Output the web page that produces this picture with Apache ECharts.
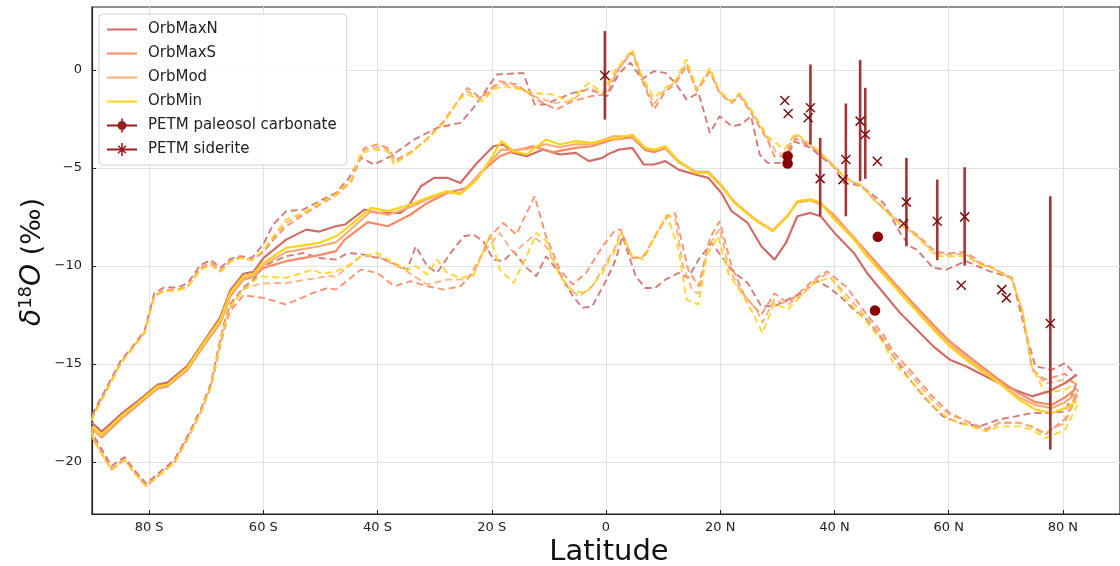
<!DOCTYPE html>
<html><head><meta charset="utf-8">
<script src="https://cdn.jsdelivr.net/npm/echarts@6/dist/echarts.min.js"></script>
<style>html,body{margin:0;padding:0;background:#fff}#c{width:1120px;height:566px}</style>
</head><body><div id="c"></div>
<script>
// ---------- DATA ----------
const xTicks = [-80, -60, -40, -20, 0, 20, 40, 60, 80];
const yTicks = [-20, -15, -10, -5, 0];
const modelNames = ['OrbMaxN', 'OrbMaxS', 'OrbMod', 'OrbMin'];

// annual mean (solid)
const orbMaxN_mean = [[-90,-18.0],[-88.3,-18.45],[-84.9,-17.55],[-82,-16.9],[-78.5,-16.05],[-76.8,-15.95],[-73.3,-15.1],[-70.4,-13.85],[-67.5,-12.6],[-65.8,-11.25],[-63.5,-10.4],[-61.7,-10.3],[-60,-9.6],[-56,-8.66],[-52.5,-8.15],[-50.2,-8.25],[-47.3,-7.98],[-45.7,-7.89],[-42.3,-7.13],[-40,-7.3],[-36,-7.3],[-34.8,-7.04],[-32.4,-5.94],[-30.1,-5.51],[-27.8,-5.51],[-25.5,-5.77],[-22.6,-4.75],[-19.7,-3.9],[-18,-3.81],[-16.2,-4.24],[-13.9,-4.41],[-11,-4.07],[-8.1,-4.32],[-5.3,-4.24],[-3,-4.66],[-0.6,-4.49],[0.25,-4.32],[2.3,-4.07],[4.6,-3.98],[6.6,-4.83],[8.4,-4.83],[10.4,-4.66],[12.7,-5.09],[15.6,-5.34],[17.9,-5.51],[20.2,-6.28],[22,-7.21],[24.8,-7.81],[27.2,-9.0],[29.5,-9.68],[31.5,-8.83],[33.5,-7.47],[35.8,-7.3],[37.6,-7.47],[39.9,-8.28],[43.4,-9.34],[45.7,-10.36],[51.5,-12.4],[57.3,-14.1],[60.2,-14.78],[63,-15.12],[68.8,-15.97],[72.3,-16.4],[74.6,-16.65],[77.5,-16.4],[80.4,-15.97],[82.4,-15.55]];
const orbMaxS_mean = [[-90,-18.3],[-88.3,-18.75],[-84.9,-17.8],[-82,-17.1],[-78.5,-16.25],[-76.8,-16.15],[-73.3,-15.3],[-70.4,-14.05],[-67.5,-12.9],[-65.8,-11.55],[-63.5,-10.7],[-61.7,-10.55],[-60,-10.1],[-56,-9.76],[-50.2,-9.45],[-47.3,-9.25],[-45.7,-8.65],[-41.7,-7.77],[-38.2,-7.98],[-34.2,-7.38],[-31.3,-6.79],[-27.8,-6.28],[-24.3,-6.02],[-22,-5.26],[-18.6,-4.41],[-16.2,-4.15],[-12.8,-3.9],[-9.3,-4.2],[-5.3,-3.98],[-2.4,-3.9],[1.1,-3.56],[4.6,-3.45],[6.9,-4.1],[8.4,-4.2],[10.4,-4.0],[12.7,-4.7],[15.6,-5.2],[17.9,-5.2],[20.2,-5.9],[22.5,-6.75],[26,-7.6],[29.2,-8.2],[31.8,-7.45],[33.5,-6.75],[35.8,-6.65],[37.6,-6.85],[39.9,-7.4],[45.7,-9.3],[51.5,-11.2],[57.3,-13.0],[60.2,-13.85],[63,-14.5],[68.8,-15.8],[72.3,-16.5],[75.2,-16.95],[78.1,-17.08],[80.4,-16.7],[82.4,-16.23]];
const orbMod_mean = [[-90,-18.25],[-88.3,-18.7],[-84.9,-17.75],[-82,-17.05],[-78.5,-16.2],[-76.8,-16.1],[-73.3,-15.25],[-70.4,-14.0],[-67.5,-12.85],[-65.8,-11.5],[-63.5,-10.65],[-61.7,-10.5],[-60,-9.95],[-56,-9.3],[-50.2,-9.0],[-47.3,-8.8],[-45.7,-8.4],[-41.1,-7.2],[-38.2,-7.4],[-34.2,-7.0],[-31.3,-6.6],[-27.8,-6.25],[-25.5,-6.3],[-22.6,-5.5],[-20.3,-4.7],[-18.3,-4.07],[-16.2,-4.1],[-13.9,-4.05],[-10.5,-3.8],[-8.1,-3.95],[-5.3,-3.8],[-2.4,-3.8],[1.1,-3.4],[4.6,-3.4],[6.9,-4.0],[8.4,-4.1],[10.4,-3.95],[12.7,-4.65],[15.6,-5.2],[17.9,-5.25],[20.2,-5.92],[22.5,-6.77],[26,-7.62],[29.2,-8.2],[31.8,-7.45],[33.5,-6.72],[35.8,-6.6],[37.6,-6.8],[39.9,-7.5],[43.4,-8.55],[45.7,-9.4],[51.5,-11.3],[57.3,-13.15],[60.2,-14.0],[63,-14.65],[68.8,-15.9],[72.3,-16.7],[75.2,-17.1],[78.1,-17.25],[80.4,-16.95],[82.4,-16.5]];
const orbMin_mean = [[-90,-18.2],[-88.3,-18.6],[-84.9,-17.67],[-82,-16.99],[-78.5,-16.14],[-76.8,-16.06],[-73.3,-15.2],[-70.4,-13.93],[-67.5,-12.74],[-65.8,-11.38],[-63.5,-10.53],[-61.7,-10.4],[-60,-9.85],[-56,-9.08],[-50.2,-8.83],[-47.3,-8.49],[-45.7,-8.15],[-41.1,-7.04],[-38.2,-7.21],[-34.2,-6.87],[-31.3,-6.53],[-27.8,-6.19],[-25.5,-6.36],[-22.6,-5.6],[-20.3,-4.58],[-18.3,-3.64],[-16.2,-4.15],[-13.9,-4.32],[-10.5,-3.56],[-8.1,-3.81],[-5.3,-3.64],[-2.4,-3.73],[0.25,-3.55],[2.3,-3.47],[4.6,-3.3],[6.9,-3.98],[8.4,-4.07],[10.4,-3.9],[12.7,-4.66],[15.6,-5.26],[17.9,-5.26],[20.2,-5.94],[22.5,-6.79],[26,-7.64],[29.2,-8.23],[31.8,-7.47],[33.5,-6.7],[35.8,-6.62],[37.6,-6.79],[39.9,-7.6],[43.4,-8.66],[45.7,-9.51],[51.5,-11.38],[57.3,-13.25],[60.2,-14.1],[63,-14.78],[68.8,-15.97],[72.3,-16.82],[75.2,-17.33],[78.1,-17.5],[80.4,-17.25],[82.4,-16.9]];

// upper envelope (dashed)
const orbMaxN_upper = [[-90,-17.6],[-89.8,-17.5],[-84.9,-14.8],[-83.1,-14.2],[-80.8,-13.3],[-79.1,-11.4],[-77.4,-11.1],[-75,-11.1],[-73.3,-10.9],[-71,-9.95],[-69.2,-9.7],[-67.5,-10.1],[-65.8,-9.65],[-64,-9.5],[-62,-9.6],[-60,-8.9],[-58.3,-7.9],[-56,-7.21],[-53,-7.13],[-50.2,-6.7],[-47.3,-6.28],[-45.2,-5.6],[-42.9,-4.49],[-40.6,-4.83],[-37.7,-4.41],[-33.6,-3.56],[-29.6,-2.96],[-25.5,-2.71],[-23.2,-1.94],[-19.1,-0.24],[-14.5,-0.16],[-12.5,-1.77],[-10.5,-1.77],[-8.7,-1.51],[-5.8,-1.18],[-3,-1.0],[0.25,-1.34],[2.3,-0.16],[4.3,0.36],[6.3,-0.49],[8.4,-0.07],[10.4,-0.16],[12.1,-0.66],[14.1,-1.51],[16.2,-1.18],[18.2,-3.22],[19.9,-2.37],[22,-2.88],[23.7,-2.79],[25.4,-2.37],[26.9,-4.32],[28.3,-4.75],[31.2,-4.75],[33,-3.65],[35.8,-3.98],[37.6,-4.41],[39.9,-4.95],[41.6,-5.77],[44.5,-5.9],[48.6,-6.79],[51.5,-8.32],[53.2,-9.0],[54.4,-9.17],[57.3,-10.1],[59.6,-10.19],[63,-9.76],[67.1,-10.27],[71.1,-10.61],[73.5,-13.42],[75.2,-15.12],[78.1,-15.29],[80.4,-14.95],[82.4,-15.63]];
const orbMaxS_upper = [[-90,-17.8],[-89.8,-17.6],[-84.9,-14.9],[-83.1,-14.25],[-80.8,-13.4],[-79.1,-11.5],[-77.4,-11.25],[-75,-11.2],[-73.3,-11.05],[-71,-10.1],[-69.2,-9.85],[-67.5,-10.25],[-65.8,-9.75],[-64,-9.55],[-62,-9.7],[-60,-9.3],[-58.3,-8.7],[-56,-7.98],[-53,-7.4],[-50.2,-6.9],[-47.3,-6.4],[-44.6,-5.7],[-42.3,-3.98],[-40,-3.81],[-38.2,-3.98],[-36.8,-4.6],[-33.9,-4.15],[-31.3,-3.5],[-28.4,-2.62],[-24.3,-0.92],[-22,-1.43],[-18.6,-0.58],[-15.7,-0.75],[-11.6,-1.6],[-8.7,-2.03],[-5.8,-1.6],[-2.4,-1.34],[0.1,-1.26],[2.3,0.1],[4.6,0.9],[6.3,-0.5],[8.4,-2.03],[10.4,-1.1],[12.1,-0.75],[14.1,0.2],[15.9,-1.1],[18.2,-0.1],[19.9,-1.2],[22,-1.7],[23.4,-1.3],[25.4,-2.2],[28.3,-3.6],[29.5,-4.41],[31.2,-4.41],[33.2,-3.5],[35.8,-3.9],[37.6,-4.3],[39.9,-4.9],[41.6,-5.4],[43.4,-5.75],[44.5,-5.85],[46.8,-6.55],[51.5,-7.8],[54.4,-8.4],[57.8,-9.3],[60.2,-9.35],[63,-9.3],[65.9,-9.9],[67.1,-10.0],[70.6,-10.55],[71.1,-10.65],[72.9,-12.4],[74.6,-15.3],[76.9,-15.8],[80.4,-15.5],[82.4,-16.1]];
const orbMod_upper = [[-90,-17.85],[-89.8,-17.65],[-84.9,-14.95],[-83.1,-14.27],[-80.8,-13.42],[-79.1,-11.55],[-77.4,-11.28],[-75,-11.22],[-73.3,-11.08],[-71,-10.15],[-69.2,-9.9],[-67.5,-10.28],[-65.8,-9.78],[-64,-9.58],[-62,-9.7],[-60,-9.25],[-58.3,-8.6],[-56,-7.8],[-53,-7.35],[-50.2,-6.85],[-47.3,-6.38],[-44.6,-5.65],[-42.6,-4.1],[-40,-3.95],[-38.2,-4.05],[-37,-4.72],[-34,-4.2],[-31.3,-3.52],[-28.4,-2.66],[-25,-1.2],[-24.3,-1.1],[-21.8,-1.5],[-19.2,-0.8],[-18,-0.7],[-15.4,-0.9],[-12.2,-1.4],[-9,-1.7],[-6.1,-1.6],[-3,-0.9],[-0.6,-1.25],[1.7,-0.2],[4.6,0.95],[6.3,-0.4],[8.4,-1.75],[10.4,-1.0],[12.1,-0.65],[14.1,0.35],[15.9,-1.05],[18.2,0.0],[19.9,-1.15],[22,-1.65],[23.4,-1.25],[25.4,-2.1],[28.3,-3.5],[30,-4.3],[31.2,-4.25],[33.2,-3.35],[35.8,-3.85],[37.6,-4.27],[39.9,-4.9],[41.6,-5.42],[43.4,-5.76],[44.5,-5.85],[46.8,-6.58],[51.5,-7.85],[54.4,-8.45],[57.8,-9.4],[60.2,-9.42],[63,-9.4],[65.9,-9.95],[67.1,-10.02],[70.6,-10.58],[71.1,-10.68],[72.9,-12.3],[74.6,-15.2],[76.9,-16.0],[80.4,-15.8],[82.4,-16.0]];
const orbMin_upper = [[-90,-17.9],[-89.8,-17.7],[-84.9,-14.95],[-83.1,-14.27],[-80.8,-13.42],[-79.1,-11.55],[-77.4,-11.3],[-75,-11.25],[-73.3,-11.1],[-71,-10.2],[-69.2,-9.95],[-67.5,-10.3],[-65.8,-9.8],[-64,-9.6],[-62,-9.7],[-60,-9.2],[-58.3,-8.5],[-56,-7.64],[-53,-7.3],[-50.2,-6.8],[-47.3,-6.35],[-44.6,-5.6],[-42.9,-4.24],[-40,-4.07],[-38.2,-4.15],[-37.1,-4.83],[-34.2,-4.24],[-31.3,-3.56],[-28.4,-2.71],[-25.5,-1.43],[-24.3,-1.26],[-21.5,-1.6],[-19.7,-1.0],[-18,-0.84],[-15.1,-1.0],[-12.8,-1.18],[-9.3,-1.26],[-6.4,-1.6],[-3,-0.66],[-0.6,-1.18],[1.7,0.0],[4.6,1.04],[6.3,-0.33],[8.4,-1.43],[10.4,-0.92],[12.1,-0.58],[14.1,0.53],[15.9,-1.0],[18.2,0.1],[19.9,-1.09],[22,-1.6],[23.4,-1.18],[25.4,-2.03],[28.3,-3.39],[31.2,-4.07],[33.2,-3.22],[35.8,-3.81],[37.6,-4.24],[39.9,-4.92],[41.6,-5.43],[43.4,-5.77],[44.5,-5.85],[46.8,-6.6],[51.5,-7.9],[54.4,-8.5],[57.8,-9.5],[60.2,-9.51],[63,-9.5],[65.9,-10.0],[67.1,-10.05],[70.6,-10.6],[71.1,-10.7],[72.9,-12.23],[74.6,-15.12],[76.9,-16.48],[80.4,-16.31],[82.4,-15.97]];

// lower envelope (dashed)
const orbMaxN_lower = [[-90,-18.2],[-89.8,-18.6],[-86.6,-20.2],[-84.3,-19.75],[-82.6,-20.4],[-80.5,-21.1],[-78.5,-20.6],[-75.6,-19.9],[-73.3,-18.7],[-71,-17.35],[-69.2,-16.0],[-68.1,-14.5],[-66.9,-12.95],[-65.8,-11.95],[-63.5,-11.1],[-61.7,-10.7],[-60,-10.0],[-56,-9.51],[-53,-9.34],[-50.2,-9.6],[-47.3,-9.68],[-45.2,-9.34],[-42.9,-9.4],[-38.8,-9.68],[-34.8,-10.19],[-33.3,-9.0],[-31.3,-10.02],[-29.6,-10.36],[-27.2,-9.34],[-24.9,-8.49],[-23.2,-8.4],[-21.5,-8.74],[-19.7,-9.68],[-18,-9.76],[-16.2,-9.25],[-13.9,-10.1],[-12.2,-10.53],[-10.5,-9.51],[-8.1,-10.36],[-5.8,-11.55],[-4.1,-12.14],[-2.4,-12.06],[0.1,-10.7],[1.7,-9.68],[2.9,-8.49],[5.2,-10.53],[6.9,-11.13],[8.6,-11.13],[10.4,-10.7],[12.7,-10.36],[14.4,-10.61],[16.2,-9.68],[18.5,-8.83],[20.2,-9.51],[22.5,-10.36],[24.8,-10.87],[27.2,-12.06],[29.5,-12.06],[31.8,-11.72],[34.1,-11.4],[37,-10.78],[38.7,-11.04],[41,-11.55],[43.4,-12.23],[45.7,-12.74],[48,-13.59],[50.3,-14.61],[53.2,-15.8],[56.1,-16.82],[59,-17.67],[61.9,-18.01],[65.4,-18.18],[68.8,-17.84],[71.7,-17.67],[74.6,-17.5],[77.5,-17.5],[80.4,-17.42],[82.4,-15.97]];
const orbMaxS_lower = [[-90,-18.3],[-89.8,-18.8],[-86.6,-20.35],[-84.3,-19.85],[-82.6,-20.5],[-80.5,-21.2],[-78.5,-20.7],[-75.6,-20.0],[-73.3,-18.8],[-71,-17.5],[-69.2,-16.2],[-68.1,-14.8],[-66.9,-13.3],[-65.8,-12.3],[-63.5,-11.5],[-60,-11.63],[-56,-11.97],[-51.3,-11.38],[-48.65,-11.12],[-47.3,-11.21],[-42.9,-10.19],[-40,-10.36],[-37.1,-11.04],[-34.2,-10.78],[-31.3,-11.04],[-28.4,-11.21],[-25.5,-11.04],[-23.2,-10.36],[-20.3,-8.49],[-18,-7.81],[-15.7,-8.4],[-12.5,-6.45],[-10.5,-8.49],[-8.1,-10.19],[-5.8,-10.95],[-3.5,-10.36],[-0.6,-9.0],[1.7,-8.15],[2.6,-8.15],[4.6,-9.6],[6.6,-9.5],[8.6,-8.5],[10.7,-7.47],[12.1,-7.3],[14.4,-10.2],[16.2,-11.04],[18.2,-8.57],[19.9,-7.72],[22,-10.02],[24.3,-11.55],[27.2,-12.49],[29.5,-11.4],[31.8,-11.9],[36.4,-10.7],[38.7,-10.27],[42.2,-11.1],[45.7,-12.5],[48.6,-13.5],[50.3,-14.4],[53.2,-15.3],[57.3,-16.7],[60.2,-17.5],[63,-17.9],[66.5,-18.4],[68.8,-18.0],[72.3,-18.0],[74.6,-18.2],[76.9,-18.6],[80.4,-17.8],[82.7,-16.3]];
const orbMod_lower = [[-90,-18.4],[-89.8,-18.85],[-86.6,-20.4],[-84.3,-19.9],[-82.6,-20.55],[-80.5,-21.25],[-78.5,-20.75],[-75.6,-20.05],[-73.3,-18.85],[-71,-17.5],[-69.2,-16.15],[-68.1,-14.7],[-66.9,-13.2],[-65.8,-12.15],[-63.5,-11.2],[-60.6,-10.9],[-56,-10.87],[-50.2,-10.6],[-48.65,-10.5],[-47.3,-10.55],[-42.9,-9.51],[-40,-9.51],[-35.3,-10.2],[-31.3,-10.95],[-27.8,-10.7],[-24.3,-10.7],[-21.5,-9.34],[-18.6,-8.32],[-16.2,-9.34],[-12.8,-8.49],[-10.5,-9.0],[-7,-11.04],[-4.7,-11.55],[-2.4,-11.04],[1.7,-9.0],[2.6,-8.2],[4.6,-9.6],[6.6,-9.6],[8.6,-8.45],[10.7,-7.4],[12.1,-7.6],[13.5,-10.0],[15.2,-11.3],[16.2,-11.4],[17.9,-9.0],[19.9,-8.1],[21.6,-10.2],[23.7,-11.3],[26.5,-12.3],[27.4,-12.9],[29.5,-11.7],[31.8,-12.0],[34.1,-11.5],[36.4,-10.8],[38.7,-10.4],[42.2,-11.5],[45.7,-12.7],[48.6,-13.7],[50.3,-14.6],[53.2,-15.5],[57.3,-16.9],[60.2,-17.6],[63,-17.9],[66.5,-18.3],[68.8,-18.0],[72.3,-18.0],[74.6,-18.2],[76.9,-18.5],[80.4,-18.0],[82.7,-16.5]];
const orbMin_lower = [[-90,-18.5],[-89.8,-18.86],[-86.6,-20.39],[-84.3,-19.88],[-82.6,-20.56],[-80.5,-21.24],[-78.5,-20.73],[-75.6,-20.05],[-73.3,-18.86],[-71,-17.5],[-69.2,-16.14],[-68.1,-14.61],[-66.9,-13.08],[-65.8,-12.06],[-63.5,-11.21],[-60.6,-10.53],[-56,-10.61],[-51.3,-10.19],[-50.2,-10.35],[-48.65,-10.36],[-47.3,-10.27],[-45.7,-10.1],[-42.9,-9.51],[-40,-9.34],[-37.1,-9.85],[-34.8,-10.2],[-33.3,-10.0],[-31.3,-10.44],[-29.6,-9.68],[-27.8,-10.36],[-25.5,-10.61],[-23.2,-10.5],[-20.3,-8.4],[-18.6,-10.19],[-16.2,-10.87],[-13.9,-9.51],[-12.2,-8.32],[-10.5,-8.7],[-8.1,-10.53],[-5.8,-11.29],[-3.5,-11.38],[-0.6,-10.36],[0.25,-9.9],[1.7,-9.17],[2.6,-8.32],[4.6,-9.51],[6.6,-9.68],[8.6,-8.49],[10.7,-7.38],[12.7,-9.17],[14.1,-11.72],[16.2,-11.97],[17.6,-9.51],[19.6,-8.49],[21.4,-10.36],[23.7,-11.38],[25.7,-12.4],[27.4,-13.42],[29.5,-11.89],[31.8,-12.23],[34.1,-11.55],[36.4,-10.87],[39.3,-10.6],[42.2,-11.72],[45.7,-12.9],[48.6,-13.93],[50.3,-14.95],[53.2,-15.8],[57.3,-17.16],[60.2,-17.84],[63,-18.1],[66.5,-18.44],[68.8,-18.18],[72.3,-18.18],[74.6,-18.35],[76.9,-18.78],[80.4,-18.35],[82.7,-16.99]];

// proxy data
const paleosolLat = [31.8, 31.8, 47.6, 47.1];
const paleosolVal = [-4.41, -4.78, -8.52, -12.27];
const sideriteLat = [-0.2, 31.3, 31.9, 35.8, 35.4, 37.5, 42.0, 41.5, 44.5, 45.4, 47.5, 52.6, 52.1, 58.0, 62.8, 62.2, 69.3, 70.1, 77.8];
const sideriteVal = [-0.29, -1.57, -2.23, -1.94, -2.45, -5.55, -4.58, -5.6, -2.62, -3.3, -4.66, -6.75, -7.84, -7.72, -7.5, -10.99, -11.21, -11.63, -12.94];
const sideriteErrLat = [-0.2, 35.8, 37.5, 42.0, 44.5, 45.4, 52.6, 58.0, 62.8, 77.8];
const sideriteErrLo = [-2.54, -3.81, -7.47, -7.47, -5.68, -5.56, -9.0, -9.71, -9.98, -19.37];
const sideriteErrHi = [1.97, 0.27, -3.47, -1.72, 0.49, -0.92, -4.49, -5.6, -4.97, -6.45];

// ---------- STYLE ----------
const colors = {OrbMaxN: '#cf6e69', OrbMaxS: '#f98a62', OrbMod: '#f9ad78', OrbMin: '#ffd21c'};
const FONT = 'DejaVu Sans';
const modelData = {
  OrbMaxN: [orbMaxN_mean, orbMaxN_upper, orbMaxN_lower],
  OrbMaxS: [orbMaxS_mean, orbMaxS_upper, orbMaxS_lower],
  OrbMod: [orbMod_mean, orbMod_upper, orbMod_lower],
  OrbMin: [orbMin_mean, orbMin_upper, orbMin_lower]
};

const series = [];
modelNames.forEach((m, i) => {
  const [mean, up, lo] = modelData[m];
  [[up, 'upper'], [lo, 'lower']].forEach(([d, tag]) => {
    series.push({
      name: m + ' ' + tag, type: 'line', data: d, symbol: 'none', silent: true,
      lineStyle: {color: colors[m], width: 1.9, type: [7, 4], opacity: 0.9}, z: 2 + i
    });
  });
});
modelNames.forEach((m, i) => {
  series.push({
    name: m, type: 'line', data: modelData[m][0], symbol: 'none', silent: true,
    itemStyle: {color: colors[m]},
    lineStyle: {color: colors[m], width: 2.2}, z: 10 + i
  });
});

const errData = sideriteErrLat.map((x, i) => [x, sideriteErrLo[i], sideriteErrHi[i]]);
series.push({
  name: 'PETM siderite bars', type: 'custom', silent: true, z: 20,
  data: errData, encode: {x: 0, y: [1, 2]},
  renderItem: (params, api) => {
    const p1 = api.coord([api.value(0), api.value(1)]);
    const p2 = api.coord([api.value(0), api.value(2)]);
    return {type: 'line', shape: {x1: p1[0], y1: p1[1], x2: p2[0], y2: p2[1]},
      style: {stroke: '#a23636', lineWidth: 2.6}};
  }
});
series.push({
  name: 'PETM siderite', type: 'scatter', silent: true, z: 21,
  data: sideriteLat.map((x, i) => [x, sideriteVal[i]]),
  symbol: 'path://M0,0L10,10M10,0L0,10', symbolSize: 9,
  itemStyle: {color: 'rgba(0,0,0,0)', borderColor: '#7e1010', borderWidth: 1.5, opacity: 1}
});
series.push({
  name: 'PETM paleosol carbonate', type: 'scatter', silent: true, z: 22,
  data: paleosolLat.map((x, i) => [x, paleosolVal[i]]),
  symbol: 'circle', symbolSize: 10.5,
  itemStyle: {color: '#8b0000', opacity: 1}
});

const box = 'M0,0h0.01v0.01h-0.01z M29.99,13.99h0.01v0.01h-0.01z ';
const lineIcon = 'path://' + box + 'M0,6h30v2h-30z';
const paleoIcon = 'path://' + box + 'M0,6h30v2h-30z M14.2,0h1.6v14h-1.6z M10.5,7a4.5,4.5 0 1,1 9,0a4.5,4.5 0 1,1 -9,0z';
const sidIcon = 'path://' + box + 'M0,6h30v2h-30z M14.2,0.5h1.6v13h-1.6z M10.5,3.8L11.6,2.7L19.5,10.2L18.4,11.3z M18.4,2.7L19.5,3.8L11.6,11.3L10.5,10.2z';

const gridLineStyle = {color: '#e2e2e2', width: 1};
const option = {
  animation: false,
  backgroundColor: '#ffffff',
  grid: {left: 92, top: 7, right: -9, bottom: 52, show: true, borderColor: '#222', borderWidth: 1.2, backgroundColor: 'transparent'},
  xAxis: {
    type: 'value', min: -90, max: 90,
    axisLine: {show: true, onZero: false, lineStyle: {color: '#222', width: 1.2}},
    axisTick: {show: true, inside: true, length: 4, customValues: xTicks, lineStyle: {color: '#222'}},
    axisLabel: {customValues: xTicks, color: '#222', fontSize: 13, fontFamily: FONT, margin: 7,
      formatter: v => v === 0 ? '0' : (Math.abs(v) + (v < 0 ? ' S' : ' N'))},
    splitLine: {show: true, lineStyle: gridLineStyle}
  },
  yAxis: {
    type: 'value', min: -22.65, max: 3.2,
    axisLine: {show: true, onZero: false, lineStyle: {color: '#222', width: 1.2}},
    axisTick: {show: true, inside: true, length: 4, customValues: yTicks, lineStyle: {color: '#222'}},
    axisLabel: {customValues: yTicks, color: '#222', fontSize: 13, fontFamily: FONT, margin: 10,
      formatter: v => v < 0 ? '\u2212' + Math.abs(v) : String(v)},
    splitLine: {show: true, lineStyle: gridLineStyle}
  },
  legend: {
    orient: 'vertical', left: 99, top: 14, itemWidth: 30, itemHeight: 14, itemGap: 9,
    padding: [8, 10, 8, 8], backgroundColor: 'rgba(255,255,255,0.85)',
    borderColor: '#d0d0d0', borderWidth: 1, borderRadius: 4,
    textStyle: {fontSize: 15, fontFamily: FONT, color: '#222', padding: [0, 0, 0, 6]},
    selectedMode: false,
    data: [
      {name: 'OrbMaxN', icon: lineIcon, itemStyle: {color: colors.OrbMaxN, borderWidth: 0}},
      {name: 'OrbMaxS', icon: lineIcon, itemStyle: {color: colors.OrbMaxS, borderWidth: 0}},
      {name: 'OrbMod', icon: lineIcon, itemStyle: {color: colors.OrbMod, borderWidth: 0}},
      {name: 'OrbMin', icon: lineIcon, itemStyle: {color: colors.OrbMin, borderWidth: 0}},
      {name: 'PETM paleosol carbonate', icon: paleoIcon, itemStyle: {color: '#951f1f', borderWidth: 0}},
      {name: 'PETM siderite', icon: sidIcon, itemStyle: {color: '#951f1f', borderWidth: 0}}
    ]
  },
  graphic: [
    {type: 'text', x: 609, y: 552, style: {text: 'Latitude', font: '29px "DejaVu Sans"', fill: '#111', align: 'center', verticalAlign: 'middle'}},
    {type: 'text', x: 33, y: 262, rotation: Math.PI / 2,
      style: {text: '{i|δ}{s|18}{i|O}{n| (‰)}', fill: '#111', align: 'center', verticalAlign: 'middle',
        rich: {
          i: {fontSize: 28, fontStyle: 'italic', fontFamily: FONT, fill: '#111'},
          s: {fontSize: 18, fontFamily: FONT, padding: [0, 0, 14, 0], fill: '#111'},
          n: {fontSize: 27, fontFamily: FONT, fill: '#111'}
        }}}
  ],
  series: series
};
const chart = echarts.init(document.getElementById('c'), null, {renderer: 'canvas'});
chart.setOption(option);
</script></body></html>
